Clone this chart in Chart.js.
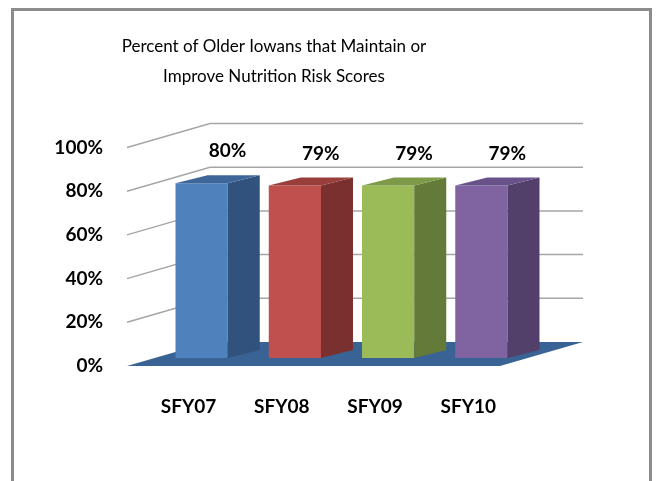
<!DOCTYPE html>
<html>
<head>
<meta charset="utf-8">
<script src="https://cdn.jsdelivr.net/npm/chart.js@4/dist/chart.umd.min.js"></script>
<style>
  html, body { margin: 0; padding: 0; background: #fff; }
  #wrap { position: relative; width: 656px; height: 481px; }
</style>
</head>
<body>
<div id="wrap"><canvas id="nutritionChart" width="656" height="481"></canvas></div>
<script>
// data
const categories = ['SFY07', 'SFY08', 'SFY09', 'SFY10'];
const percentValues = [80, 79, 79, 79];
const tickValues = [0, 20, 40, 60, 80, 100];
const titleLines = ['Percent of Older Iowans that Maintain or', 'Improve Nutrition Risk Scores'];

const frontColors = ['#4F81BD', '#C0504D', '#9BBB59', '#8064A2'];
const sideColors = ['#31527C', '#7A302E', '#647A38', '#523F6A'];
const topColors = ['#3E6699', '#9A3E3B', '#7E9A48', '#68528A'];

// 3d look: wall depth and bar depth in pixels
const WALL_DX = 83, WALL_DY = -24;
const BAR_SHIFT_X = 28, BAR_SHIFT_Y = -8;
const BAR_DX = 32, BAR_DY = -8;

const threeD = {
    id: 'threeD',
    beforeDraw(chart) {
        const ctx = chart.ctx;
        ctx.save();
        ctx.fillStyle = '#fff';
        ctx.fillRect(0, 0, chart.width, chart.height);
        // outer frame
        ctx.strokeStyle = '#8C8C8C';
        ctx.lineWidth = 3;
        ctx.strokeRect(12.5, 9.5, 638, 500);
        ctx.restore();
    },
    beforeDatasetsDraw(chart) {
        const ctx = chart.ctx;
        const area = chart.chartArea;
        const y = chart.scales.y;
        ctx.save();
        // floor
        const y0 = y.getPixelForValue(0);
        ctx.fillStyle = '#3A6395';
        ctx.beginPath();
        ctx.moveTo(area.left, y0);
        ctx.lineTo(area.right, y0);
        ctx.lineTo(area.right + WALL_DX, y0 + WALL_DY);
        ctx.lineTo(area.left + WALL_DX, y0 + WALL_DY);
        ctx.closePath();
        ctx.fill();
        // left wall + back wall gridlines
        ctx.strokeStyle = '#A6A6A6';
        ctx.lineWidth = 1.5;
        tickValues.forEach(v => {
            if (v === 0) return;
            const py = y.getPixelForValue(v);
            ctx.beginPath();
            ctx.moveTo(area.left, py);
            ctx.lineTo(area.left + WALL_DX, py + WALL_DY);
            ctx.lineTo(area.right + WALL_DX, py + WALL_DY);
            ctx.stroke();
        });
        ctx.restore();
        // bars sit a bit back in depth
        ctx.save();
        ctx.translate(BAR_SHIFT_X, BAR_SHIFT_Y);
    },
    afterDatasetsDraw(chart) {
        const ctx = chart.ctx;
        const bars = chart.getDatasetMeta(0).data;
        bars.forEach((bar, i) => {
            const p = bar.getProps(['x', 'y', 'base', 'width'], true);
            const l = p.x - p.width / 2, r = p.x + p.width / 2;
            ctx.fillStyle = sideColors[i];
            ctx.beginPath();
            ctx.moveTo(r, p.y);
            ctx.lineTo(r + BAR_DX, p.y + BAR_DY);
            ctx.lineTo(r + BAR_DX, p.base + BAR_DY);
            ctx.lineTo(r, p.base);
            ctx.closePath();
            ctx.fill();
            ctx.fillStyle = topColors[i];
            ctx.beginPath();
            ctx.moveTo(l, p.y);
            ctx.lineTo(l + BAR_DX, p.y + BAR_DY);
            ctx.lineTo(r + BAR_DX, p.y + BAR_DY);
            ctx.lineTo(r, p.y);
            ctx.closePath();
            ctx.fill();
        });
        ctx.restore();

        // value labels above the bars
        ctx.save();
        ctx.fillStyle = '#000';
        ctx.font = 'bold 19px Lato, sans-serif';
        ctx.textAlign = 'center';
        ctx.textBaseline = 'middle';
        bars.forEach((bar, i) => {
            ctx.fillText(percentValues[i] + '%', bar.x + BAR_SHIFT_X + 26, bar.y + BAR_SHIFT_Y - 32);
        });
        ctx.restore();
    }
};

const ctx = document.getElementById('nutritionChart').getContext('2d');
new Chart(ctx, {
    type: 'bar',
    data: {
        labels: categories,
        datasets: [{
            data: percentValues,
            backgroundColor: frontColors,
            borderWidth: 0,
            barPercentage: 0.56,
            categoryPercentage: 1
        }]
    },
    options: {
        responsive: false,
        animation: false,
        events: [],
        layout: { padding: { left: 48, right: 156, top: 0, bottom: 0 } },
        scales: {
            x: {
                grid: { display: false, drawTicks: false },
                border: { display: false },
                ticks: {
                    color: '#000',
                    font: { family: 'Lato, sans-serif', size: 19, weight: 'bold' },
                    padding: 29,
                    labelOffset: 15,
                    maxRotation: 0
                },
                afterFit(scale) { scale.height = 115; }
            },
            y: {
                min: 0,
                max: 100,
                grid: { display: false, drawTicks: false },
                border: { display: false },
                ticks: {
                    stepSize: 20,
                    color: '#000',
                    font: { family: 'Lato, sans-serif', size: 19, weight: 'bold' },
                    padding: 24,
                    callback: v => v + '%'
                },
                afterFit(scale) { scale.width = 79; }
            }
        },
        plugins: {
            legend: { display: false },
            tooltip: { enabled: false },
            title: {
                display: true,
                text: titleLines,
                color: '#000',
                font: { family: 'Lato, sans-serif', size: 17, weight: 'normal', lineHeight: 1.75 },
                padding: { top: 32, bottom: 56 }
            }
        }
    },
    plugins: [threeD]
});
</script>
</body>
</html>
